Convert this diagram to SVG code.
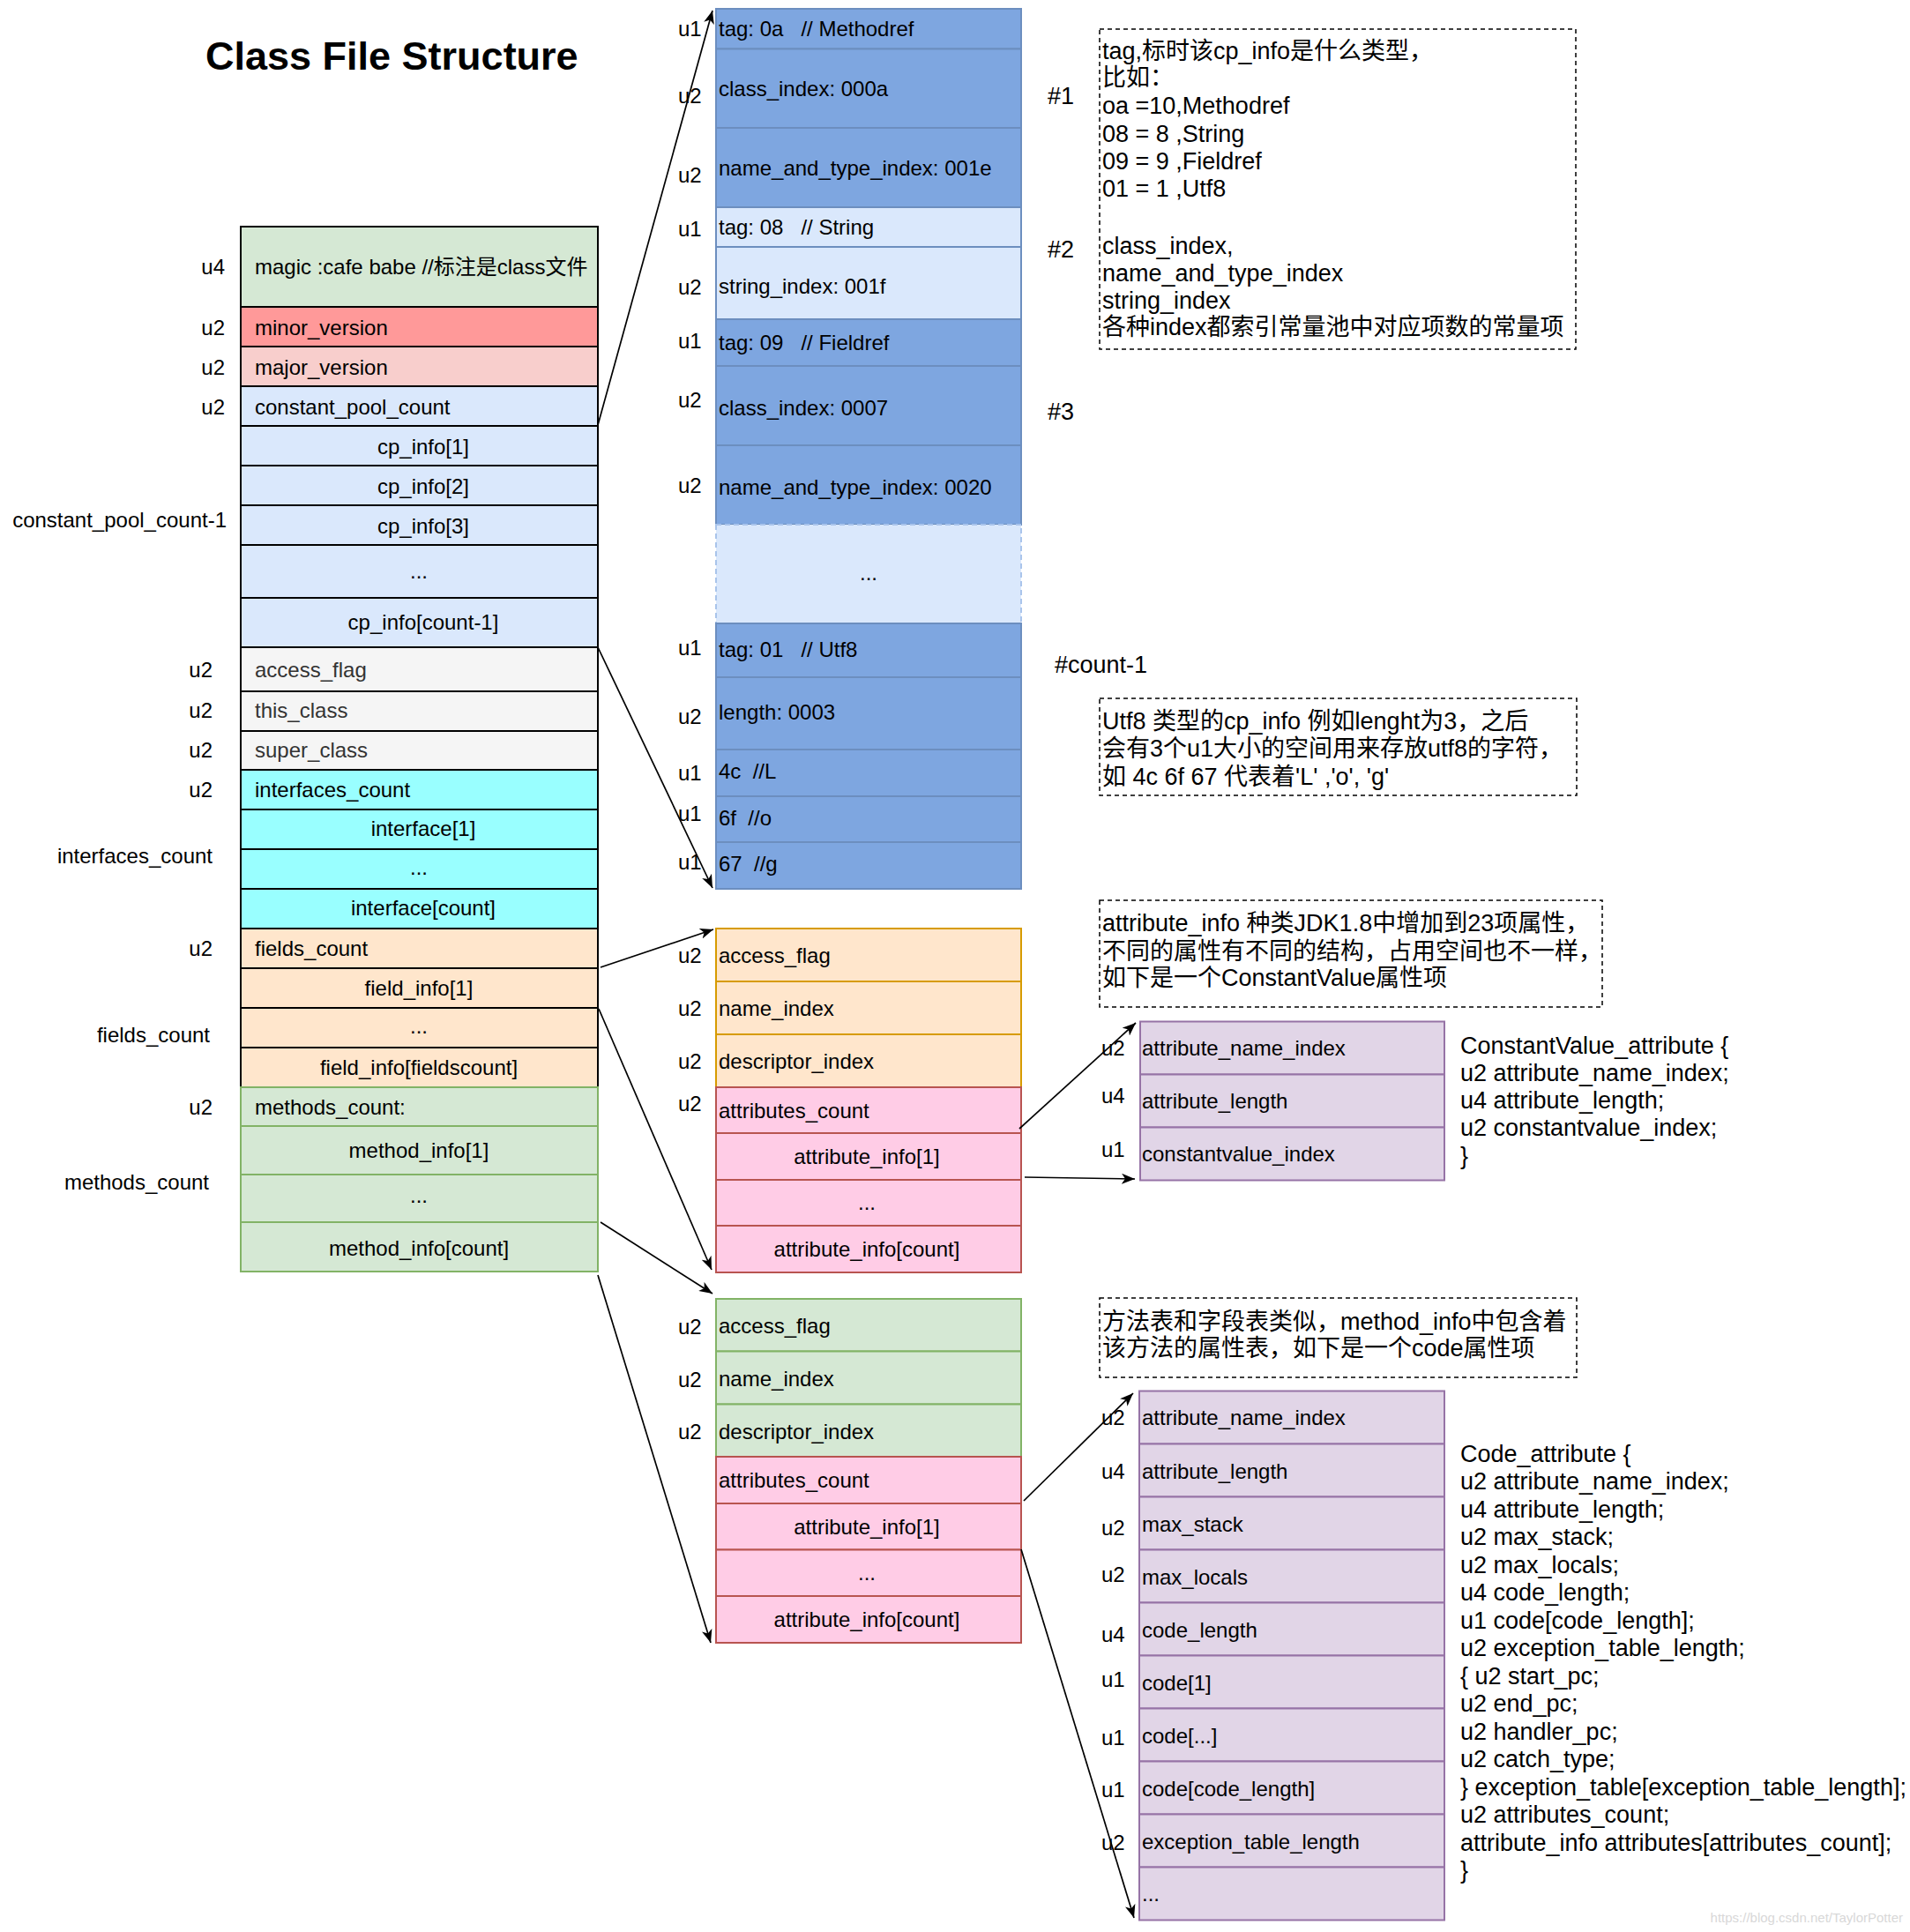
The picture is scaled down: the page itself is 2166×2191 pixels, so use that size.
<svg xmlns="http://www.w3.org/2000/svg" width="2166" height="2191" viewBox="0 0 2166 2191">
<defs>
<style>
text{font-family:"Liberation Sans","Noto Sans CJK SC",sans-serif;font-size:24px;fill:#000}
.n{font-size:27px}
.m{text-anchor:middle}
.r{text-anchor:end}
.g{fill:#333}
.title{font-size:45px;font-weight:bold}
.wm{font-size:15px;fill:#d8d8d8;text-anchor:end}
.k{stroke:#000;stroke-width:2}
.cpc{fill:#dae8fc}
.cpd{fill:#7ea6e0;stroke:#6c8ebf;stroke-width:2}
.cpl{fill:#dae8fc;stroke:#6c8ebf;stroke-width:2}
.or{fill:#ffe6cc;stroke:#d79b00;stroke-width:2}
.pk{fill:#ffcce6;stroke:#b85450;stroke-width:2}
.gr{fill:#d5e8d4;stroke:#82b366;stroke-width:2}
.pu{fill:#e1d5e7;stroke:#9673a6;stroke-width:2}
.note{fill:none;stroke:#000;stroke-width:1.5;stroke-dasharray:5 4}
.conn{fill:none;stroke:#000;stroke-width:1.7}
</style>
<marker id="arr" markerWidth="16" markerHeight="12" refX="15" refY="6" orient="auto" markerUnits="userSpaceOnUse">
<path d="M0,0 L15,6 L0,12 L4,6 Z" fill="#000"/>
</marker>
</defs>
<rect x="0" y="0" width="2166" height="2191" fill="#fff"/>
<text id="title" class="title" x="233" y="79">Class File Structure</text>

<g id="left-table">
<g id="magic"><rect x="273" y="257" width="405" height="91" fill="#d5e8d4" class="k"/><text x="289" y="311">magic :cafe babe //标注是class文件</text></g>
<g id="minor"><rect x="273" y="348" width="405" height="45" fill="#ff9999" class="k"/><text x="289" y="380">minor_version</text></g>
<g id="major"><rect x="273" y="393" width="405" height="45" fill="#f8cecc" class="k"/><text x="289" y="425">major_version</text></g>
<g id="cpcount"><rect x="273" y="438" width="405" height="45" class="cpc k"/><text x="289" y="470">constant_pool_count</text></g>
<g id="cp1"><rect x="273" y="483" width="405" height="45" class="cpc k"/><text class="m" x="480" y="515">cp_info[1]</text></g>
<g id="cp2"><rect x="273" y="528" width="405" height="45" class="cpc k"/><text class="m" x="480" y="560">cp_info[2]</text></g>
<g id="cp3"><rect x="273" y="573" width="405" height="45" class="cpc k"/><text class="m" x="480" y="605">cp_info[3]</text></g>
<g id="cpdots"><rect x="273" y="618" width="405" height="60" class="cpc k"/><text class="m" x="475" y="656">...</text></g>
<g id="cpn"><rect x="273" y="678" width="405" height="56" class="cpc k"/><text class="m" x="480" y="714">cp_info[count-1]</text></g>
<g id="access"><rect x="273" y="734" width="405" height="50" fill="#f5f5f5" class="k"/><text class="g" x="289" y="768">access_flag</text></g>
<g id="thisclass"><rect x="273" y="784" width="405" height="45" fill="#f5f5f5" class="k"/><text class="g" x="289" y="814">this_class</text></g>
<g id="superclass"><rect x="273" y="829" width="405" height="44" fill="#f5f5f5" class="k"/><text class="g" x="289" y="859">super_class</text></g>
<g id="ifcount"><rect x="273" y="873" width="405" height="45" fill="#99ffff" class="k"/><text x="289" y="904">interfaces_count</text></g>
<g id="if1"><rect x="273" y="918" width="405" height="45" fill="#99ffff" class="k"/><text class="m" x="480" y="948">interface[1]</text></g>
<g id="ifdots"><rect x="273" y="963" width="405" height="45" fill="#99ffff" class="k"/><text class="m" x="475" y="992">...</text></g>
<g id="ifn"><rect x="273" y="1008" width="405" height="45" fill="#99ffff" class="k"/><text class="m" x="480" y="1038">interface[count]</text></g>
<g id="fcount"><rect x="273" y="1053" width="405" height="45" fill="#ffe6cc" class="k"/><text x="289" y="1084">fields_count</text></g>
<g id="f1"><rect x="273" y="1098" width="405" height="45" fill="#ffe6cc" class="k"/><text class="m" x="475" y="1129">field_info[1]</text></g>
<g id="fdots"><rect x="273" y="1143" width="405" height="45" fill="#ffe6cc" class="k"/><text class="m" x="475" y="1172">...</text></g>
<g id="fn"><rect x="273" y="1188" width="405" height="45" fill="#ffe6cc" class="k"/><text class="m" x="475" y="1219">field_info[fieldscount]</text></g>
<g id="mcount"><rect x="273" y="1233" width="405" height="44" class="gr"/><text x="289" y="1264">methods_count:</text></g>
<g id="m1"><rect x="273" y="1277" width="405" height="55" class="gr"/><text class="m" x="475" y="1313">method_info[1]</text></g>
<g id="mdots"><rect x="273" y="1332" width="405" height="54" class="gr"/><text class="m" x="475" y="1364">...</text></g>
<g id="mn"><rect x="273" y="1386" width="405" height="56" class="gr"/><text class="m" x="475" y="1424">method_info[count]</text></g>
</g>

<g id="left-labels">
<text class="r" x="255" y="311">u4</text>
<text class="r" x="255" y="380">u2</text>
<text class="r" x="255" y="425">u2</text>
<text class="r" x="255" y="470">u2</text>
<text class="r" x="257" y="598">constant_pool_count-1</text>
<text class="r" x="241" y="768">u2</text>
<text class="r" x="241" y="814">u2</text>
<text class="r" x="241" y="859">u2</text>
<text class="r" x="241" y="904">u2</text>
<text class="r" x="241" y="979">interfaces_count</text>
<text class="r" x="241" y="1084">u2</text>
<text class="r" x="238" y="1182">fields_count</text>
<text class="r" x="241" y="1264">u2</text>
<text class="r" x="237" y="1349">methods_count</text>
</g>

<g id="cp-table">
<g id="cp-tag0a"><rect x="812" y="10" width="346" height="45.5" class="cpd"/><text x="815" y="41" xml:space="preserve">tag: 0a   // Methodref</text></g>
<g id="cp-ci"><rect x="812" y="55.5" width="346" height="89.5" class="cpd"/><text x="815" y="109">class_index: 000a</text></g>
<g id="cp-nat"><rect x="812" y="145" width="346" height="90" class="cpd"/><text x="815" y="199">name_and_type_index: 001e</text></g>
<g id="cp-tag08"><rect x="812" y="235" width="346" height="45" class="cpl"/><text x="815" y="266" xml:space="preserve">tag: 08   // String</text></g>
<g id="cp-si"><rect x="812" y="280" width="346" height="82" class="cpl"/><text x="815" y="333">string_index: 001f</text></g>
<g id="cp-tag09"><rect x="812" y="362" width="346" height="53" class="cpd"/><text x="815" y="397" xml:space="preserve">tag: 09   // Fieldref</text></g>
<g id="cp-ci7"><rect x="812" y="415" width="346" height="90" class="cpd"/><text x="815" y="471">class_index: 0007</text></g>
<g id="cp-nat20"><rect x="812" y="505" width="346" height="90" class="cpd"/><text x="815" y="561">name_and_type_index: 0020</text></g>
<g id="cp-dots"><rect x="812" y="595" width="346" height="112" fill="#dae8fc" stroke="#a9c4eb" stroke-width="2" stroke-dasharray="6 4"/><text class="m" x="985" y="658">...</text></g>
<g id="cp-tag01"><rect x="812" y="707" width="346" height="61" class="cpd"/><text x="815" y="745" xml:space="preserve">tag: 01   // Utf8</text></g>
<g id="cp-len"><rect x="812" y="768" width="346" height="82" class="cpd"/><text x="815" y="816">length: 0003</text></g>
<g id="cp-4c"><rect x="812" y="850" width="346" height="53" class="cpd"/><text x="815" y="883" xml:space="preserve">4c  //L</text></g>
<g id="cp-6f"><rect x="812" y="903" width="346" height="52" class="cpd"/><text x="815" y="936" xml:space="preserve">6f  //o</text></g>
<g id="cp-67"><rect x="812" y="955" width="346" height="53" class="cpd"/><text x="815" y="988" xml:space="preserve">67  //g</text></g>
</g>

<g id="cp-labels">
<text x="769" y="41">u1</text>
<text x="769" y="117">u2</text>
<text x="769" y="207">u2</text>
<text x="769" y="268">u1</text>
<text x="769" y="334">u2</text>
<text x="769" y="395">u1</text>
<text x="769" y="462">u2</text>
<text x="769" y="559">u2</text>
<text x="769" y="743">u1</text>
<text x="769" y="821">u2</text>
<text x="769" y="885">u1</text>
<text x="769" y="931">u1</text>
<text x="769" y="986">u1</text>
<text class="n" x="1188" y="118">#1</text>
<text class="n" x="1188" y="292">#2</text>
<text class="n" x="1188" y="476">#3</text>
<text class="n" x="1196" y="763">#count-1</text>
</g>

<g id="note-tag">
<rect x="1247" y="33" width="540" height="363" class="note"/>
<text class="n" x="1250" y="67">tag,标时该cp_info是什么类型，</text>
<text class="n" x="1250" y="97">比如：</text>
<text class="n" x="1250" y="129">oa =10,Methodref</text>
<text class="n" x="1250" y="161">08 = 8 ,String</text>
<text class="n" x="1250" y="192">09 = 9 ,Fieldref</text>
<text class="n" x="1250" y="223">01 = 1 ,Utf8</text>
<text class="n" x="1250" y="288">class_index,</text>
<text class="n" x="1250" y="319">name_and_type_index</text>
<text class="n" x="1250" y="350">string_index</text>
<text class="n" x="1250" y="380">各种index都索引常量池中对应项数的常量项</text>
</g>

<g id="note-utf8">
<rect x="1247" y="792" width="541" height="110" class="note"/>
<text class="n" x="1250" y="827">Utf8 类型的cp_info 例如lenght为3，之后</text>
<text class="n" x="1250" y="858">会有3个u1大小的空间用来存放utf8的字符，</text>
<text class="n" x="1250" y="890">如 4c 6f 67 代表着'L' ,'o', 'g'</text>
</g>

<g id="field-table">
<g id="fi-af"><rect x="812" y="1053" width="346" height="60" class="or"/><text x="815" y="1092">access_flag</text></g>
<g id="fi-ni"><rect x="812" y="1113" width="346" height="60" class="or"/><text x="815" y="1152">name_index</text></g>
<g id="fi-di"><rect x="812" y="1173" width="346" height="60" class="or"/><text x="815" y="1212">descriptor_index</text></g>
<g id="fi-ac"><rect x="812" y="1233" width="346" height="52" class="pk"/><text x="815" y="1268">attributes_count</text></g>
<g id="fi-a1"><rect x="812" y="1285" width="346" height="53" class="pk"/><text class="m" x="983" y="1320">attribute_info[1]</text></g>
<g id="fi-ad"><rect x="812" y="1338" width="346" height="52" class="pk"/><text class="m" x="983" y="1372">...</text></g>
<g id="fi-an"><rect x="812" y="1390" width="346" height="53" class="pk"/><text class="m" x="983" y="1425">attribute_info[count]</text></g>
<text x="769" y="1092">u2</text>
<text x="769" y="1152">u2</text>
<text x="769" y="1212">u2</text>
<text x="769" y="1260">u2</text>
</g>

<g id="note-attr">
<rect x="1247" y="1021" width="570" height="121" class="note"/>
<text class="n" x="1250" y="1056">attribute_info 种类JDK1.8中增加到23项属性，</text>
<text class="n" x="1250" y="1088">不同的属性有不同的结构，占用空间也不一样，</text>
<text class="n" x="1250" y="1118">如下是一个ConstantValue属性项</text>
</g>

<g id="cv-table">
<g id="cv-ani"><rect x="1293" y="1158.5" width="345" height="60" class="pu"/><text x="1295" y="1197">attribute_name_index</text></g>
<g id="cv-al"><rect x="1293" y="1218.5" width="345" height="60" class="pu"/><text x="1295" y="1257">attribute_length</text></g>
<g id="cv-cvi"><rect x="1293" y="1278.5" width="345" height="60" class="pu"/><text x="1295" y="1317">constantvalue_index</text></g>
<text x="1249" y="1197">u2</text>
<text x="1249" y="1251">u4</text>
<text x="1249" y="1312">u1</text>
</g>

<g id="cv-text">
<text class="n" x="1656" y="1195">ConstantValue_attribute {</text>
<text class="n" x="1656" y="1226">u2 attribute_name_index;</text>
<text class="n" x="1656" y="1257">u4 attribute_length;</text>
<text class="n" x="1656" y="1288">u2 constantvalue_index;</text>
<text class="n" x="1656" y="1320">}</text>
</g>

<g id="method-table">
<g id="me-af"><rect x="812" y="1473" width="346" height="59.5" class="gr"/><text x="815" y="1512">access_flag</text></g>
<g id="me-ni"><rect x="812" y="1532.5" width="346" height="60" class="gr"/><text x="815" y="1572">name_index</text></g>
<g id="me-di"><rect x="812" y="1592.5" width="346" height="59.5" class="gr"/><text x="815" y="1632">descriptor_index</text></g>
<g id="me-ac"><rect x="812" y="1652" width="346" height="53" class="pk"/><text x="815" y="1687">attributes_count</text></g>
<g id="me-a1"><rect x="812" y="1705" width="346" height="52.5" class="pk"/><text class="m" x="983" y="1740">attribute_info[1]</text></g>
<g id="me-ad"><rect x="812" y="1757.5" width="346" height="52.5" class="pk"/><text class="m" x="983" y="1792">...</text></g>
<g id="me-an"><rect x="812" y="1810" width="346" height="53" class="pk"/><text class="m" x="983" y="1845">attribute_info[count]</text></g>
<text x="769" y="1513">u2</text>
<text x="769" y="1573">u2</text>
<text x="769" y="1632">u2</text>
</g>

<g id="note-method">
<rect x="1247" y="1472" width="541" height="90" class="note"/>
<text class="n" x="1250" y="1508">方法表和字段表类似，method_info中包含着</text>
<text class="n" x="1250" y="1538">该方法的属性表，如下是一个code属性项</text>
</g>

<g id="code-table">
<g id="co-1"><rect x="1292" y="1577.5" width="346" height="60" class="pu"/><text x="1295" y="1616">attribute_name_index</text></g>
<g id="co-2"><rect x="1292" y="1637.5" width="346" height="60" class="pu"/><text x="1295" y="1677">attribute_length</text></g>
<g id="co-3"><rect x="1292" y="1697.5" width="346" height="60" class="pu"/><text x="1295" y="1737">max_stack</text></g>
<g id="co-4"><rect x="1292" y="1757.5" width="346" height="60" class="pu"/><text x="1295" y="1797">max_locals</text></g>
<g id="co-5"><rect x="1292" y="1817.5" width="346" height="60" class="pu"/><text x="1295" y="1857">code_length</text></g>
<g id="co-6"><rect x="1292" y="1877.5" width="346" height="60" class="pu"/><text x="1295" y="1917">code[1]</text></g>
<g id="co-7"><rect x="1292" y="1937.5" width="346" height="60" class="pu"/><text x="1295" y="1977">code[...]</text></g>
<g id="co-8"><rect x="1292" y="1997.5" width="346" height="60" class="pu"/><text x="1295" y="2037">code[code_length]</text></g>
<g id="co-9"><rect x="1292" y="2057.5" width="346" height="60" class="pu"/><text x="1295" y="2097">exception_table_length</text></g>
<g id="co-10"><rect x="1292" y="2117.5" width="346" height="60" class="pu"/><text x="1295" y="2156">...</text></g>
<text x="1249" y="1616">u2</text>
<text x="1249" y="1677">u4</text>
<text x="1249" y="1741">u2</text>
<text x="1249" y="1794">u2</text>
<text x="1249" y="1862">u4</text>
<text x="1249" y="1913">u1</text>
<text x="1249" y="1979">u1</text>
<text x="1249" y="2038">u1</text>
<text x="1249" y="2098">u2</text>
</g>

<g id="code-text">
<text class="n" x="1656" y="1658">Code_attribute {</text>
<text class="n" x="1656" y="1689">u2 attribute_name_index;</text>
<text class="n" x="1656" y="1721">u4 attribute_length;</text>
<text class="n" x="1656" y="1752">u2 max_stack;</text>
<text class="n" x="1656" y="1784">u2 max_locals;</text>
<text class="n" x="1656" y="1815">u4 code_length;</text>
<text class="n" x="1656" y="1847">u1 code[code_length];</text>
<text class="n" x="1656" y="1878">u2 exception_table_length;</text>
<text class="n" x="1656" y="1910">{ u2 start_pc;</text>
<text class="n" x="1656" y="1941">u2 end_pc;</text>
<text class="n" x="1656" y="1973">u2 handler_pc;</text>
<text class="n" x="1656" y="2004">u2 catch_type;</text>
<text class="n" x="1656" y="2036">} exception_table[exception_table_length];</text>
<text class="n" x="1656" y="2067">u2 attributes_count;</text>
<text class="n" x="1656" y="2099">attribute_info attributes[attributes_count];</text>
<text class="n" x="1656" y="2130">}</text>
</g>

<g id="connectors">
<path class="conn" marker-end="url(#arr)" d="M678,482 L808,12"/>
<path class="conn" marker-end="url(#arr)" d="M678,734 L808,1007"/>
<path class="conn" marker-end="url(#arr)" d="M681,1097 L809,1054"/>
<path class="conn" marker-end="url(#arr)" d="M679,1144 L807,1440"/>
<path class="conn" marker-end="url(#arr)" d="M681,1386 L808,1467"/>
<path class="conn" marker-end="url(#arr)" d="M678,1446 L806,1863"/>
<path class="conn" marker-end="url(#arr)" d="M1156,1280 L1288,1160"/>
<path class="conn" marker-end="url(#arr)" d="M1162,1335 L1287,1337"/>
<path class="conn" marker-end="url(#arr)" d="M1161,1702 L1285,1580"/>
<path class="conn" marker-end="url(#arr)" d="M1158,1757 L1286,2175"/>
</g>

<text class="wm" x="2158" y="2180">https://blog.csdn.net/TaylorPotter</text>
</svg>
